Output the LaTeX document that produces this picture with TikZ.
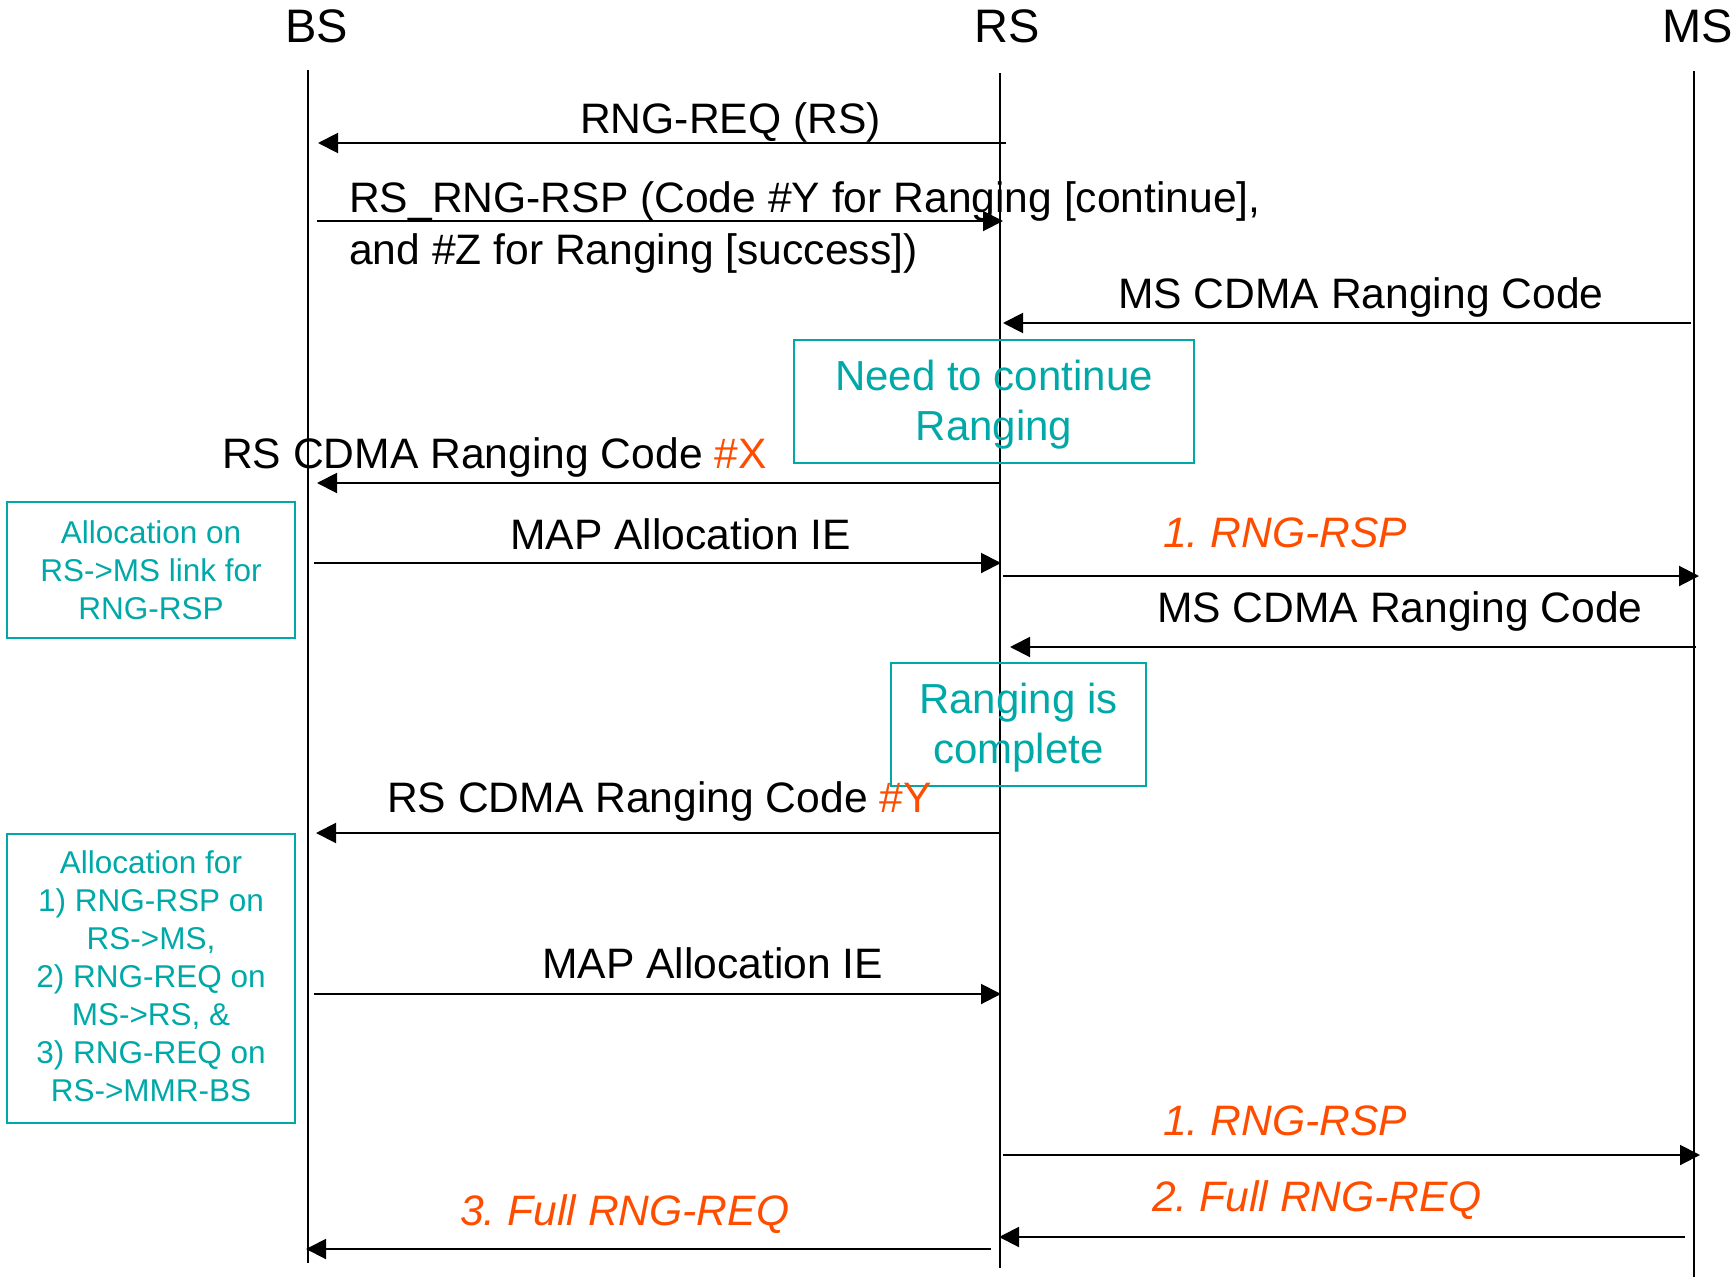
\documentclass[tikz,border=0pt]{standalone}
\usepackage{fontspec}
\setmainfont{Liberation Sans}
\usetikzlibrary{arrows.meta}
\definecolor{tealc}{RGB}{0,168,168}
\definecolor{orng}{RGB}{255,77,0}
\frenchspacing
\begin{document}
\begin{tikzpicture}[x=1pt,y=-1pt,
  life/.style={line width=1.3pt},
  msg/.style={line width=2pt,-{Triangle[length=20pt,width=20pt]}},
  lbl/.style={anchor=base west,inner sep=0pt,font=\fontsize{42.6}{50}\selectfont},
  olbl/.style={lbl,text=orng,font=\fontsize{42.6}{50}\selectfont\itshape},
  hdr/.style={anchor=base west,inner sep=0pt,font=\fontsize{47}{56}\selectfont},
  notebox/.style={draw=tealc,line width=2pt,inner sep=0pt},
  notetxt/.style={anchor=base,inner sep=0pt,text=tealc,font=\fontsize{42}{50}\selectfont},
  smalltxt/.style={anchor=base,inner sep=0pt,text=tealc,font=\fontsize{31.5}{38}\selectfont},
]
\useasboundingbox (0,0) rectangle (1733,1277);

% headers
\node[hdr] (hBS) at (285,42) {BS};
\node[hdr] (hRS) at (974,42) {RS};
\node[hdr] (hMS) at (1662,42) {MS};

% lifelines
\coordinate (bsTop) at (308,70);  \coordinate (bsBot) at (308,1263);
\coordinate (rsTop) at (1000,73); \coordinate (rsBot) at (1000,1268);
\coordinate (msTop) at (1694,71); \coordinate (msBot) at (1694,1277);
\draw[life] (bsTop) -- (bsBot);
\draw[life] (rsTop) -- (rsBot);
\draw[life] (msTop) -- (msBot);

% notes boxes
\node[notebox,minimum width=400pt,minimum height=123pt] (nNeed) at (994,401.5) {};
\node[notetxt] (nNeed1) at (994,390) {Need to continue};
\node[notetxt] (nNeed2) at (994,440) {Ranging};

\node[notebox,minimum width=255pt,minimum height=123pt] (nDone) at (1018.5,724.5) {};
\node[notetxt] (nDone1) at (1018.5,713) {Ranging is};
\node[notetxt] (nDone2) at (1018.5,763) {complete};

\node[notebox,minimum width=288pt,minimum height=136pt] (nAlloc1) at (151,570) {};
\node[smalltxt] (a1l1) at (151,543) {Allocation on};
\node[smalltxt] (a1l2) at (151,581) {RS->MS link for};
\node[smalltxt] (a1l3) at (151,619) {RNG-RSP};

\node[notebox,minimum width=288pt,minimum height=289pt] (nAlloc2) at (151,978.5) {};
\node[smalltxt] (a2l1) at (151,873) {Allocation for};
\node[smalltxt] (a2l2) at (151,911) {1) RNG-RSP on};
\node[smalltxt] (a2l3) at (151,949) {RS->MS,};
\node[smalltxt] (a2l4) at (151,987) {2) RNG-REQ on};
\node[smalltxt] (a2l5) at (151,1025) {MS->RS, \&};
\node[smalltxt] (a2l6) at (151,1063) {3) RNG-REQ on};
\node[smalltxt] (a2l7) at (151,1101) {RS->MMR-BS};

% message endpoints
\coordinate (m1s) at (1006,143);  \coordinate (m1e) at (318,143);
\coordinate (m2s) at (317,221);   \coordinate (m2e) at (1003,221);
\coordinate (m3s) at (1691,323);  \coordinate (m3e) at (1003,323);
\coordinate (m4s) at (1001,483);  \coordinate (m4e) at (317,483);
\coordinate (m5s) at (314,563);   \coordinate (m5e) at (1001,563);
\coordinate (m6s) at (1003,576);  \coordinate (m6e) at (1699,576);
\coordinate (m7s) at (1696,647);  \coordinate (m7e) at (1010,647);
\coordinate (m8s) at (1001,833);  \coordinate (m8e) at (316,833);
\coordinate (m9s) at (314,994);   \coordinate (m9e) at (1001,994);
\coordinate (m10s) at (1003,1155); \coordinate (m10e) at (1700,1155);
\coordinate (m11s) at (1685,1237); \coordinate (m11e) at (999,1237);
\coordinate (m12s) at (991,1249);  \coordinate (m12e) at (306,1249);

\draw[msg] (m1s) -- (m1e);
\draw[msg] (m2s) -- (m2e);
\draw[msg] (m3s) -- (m3e);
\draw[msg] (m4s) -- (m4e);
\draw[msg] (m5s) -- (m5e);
\draw[msg] (m6s) -- (m6e);
\draw[msg] (m7s) -- (m7e);
\draw[msg] (m8s) -- (m8e);
\draw[msg] (m9s) -- (m9e);
\draw[msg] (m10s) -- (m10e);
\draw[msg] (m11s) -- (m11e);
\draw[msg] (m12s) -- (m12e);

% message labels
\node[lbl] (t1) at (580,133) {RNG-REQ (RS)};
\node[lbl] (t2a) at (349,212) {RS\_RNG-RSP (Code \#Y for Ranging [continue],};
\node[lbl] (t2b) at (349,264) {and \#Z for Ranging [success])};
\node[lbl] (t3) at (1118,308) {MS CDMA Ranging Code};
\node[lbl] (t4) at (222,468) {RS CDMA Ranging Code \textcolor{orng}{\#X}};
\node[lbl] (t5) at (510,549) {MAP Allocation IE};
\node[olbl] (t6) at (1163,547) {1. RNG-RSP};
\node[lbl] (t7) at (1157,622) {MS CDMA Ranging Code};
\node[lbl] (t8) at (387,812) {RS CDMA Ranging Code \textcolor{orng}{\#Y}};
\node[lbl] (t9) at (542,978) {MAP Allocation IE};
\node[olbl] (t10) at (1163,1135) {1. RNG-RSP};
\node[olbl] (t11) at (1152,1211) {2. Full RNG-REQ};
\node[olbl] (t12) at (460,1225) {3. Full RNG-REQ};
\end{tikzpicture}
\end{document}
